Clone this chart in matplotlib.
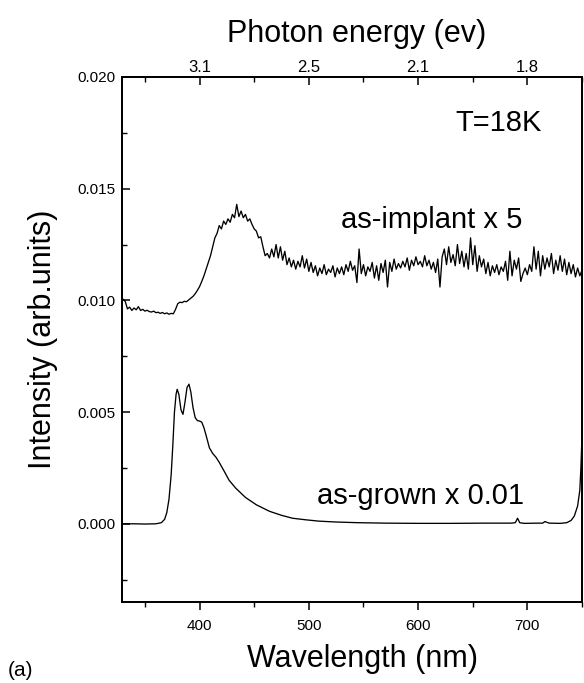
#!/usr/bin/env python
# -*- coding: utf-8 -*-
"""
Low-temperature PL spectra: as-grown vs. as-implant sample (T = 18 K).
"""

from pathlib import Path
import numpy as np
import matplotlib
matplotlib.use('Agg')
import matplotlib.pyplot as plt
from matplotlib.ticker import MultipleLocator, FixedLocator

plt.rcParams['font.family'] = ['Liberation Sans', 'DejaVu Sans']

# as-implant spectrum (x5), sampled every 2 nm from 330 to 750 nm, in units of 1e-3
implant_wavelength = np.arange(330, 752, 2)
implant_intensity_1e3 = [
    10.05, 9.95, 9.62, 9.70, 9.55, 9.66, 9.58, 9.72, 9.55, 9.60,      # 330-348
    9.52, 9.56, 9.50, 9.48, 9.52, 9.45, 9.47, 9.42, 9.46, 9.40,       # 350-368
    9.44, 9.38, 9.42, 9.40, 9.60, 9.85, 9.92, 9.90, 9.96, 9.94,       # 370-388
    10.02, 10.10, 10.18, 10.30, 10.45, 10.62, 10.85, 11.10, 11.40, 11.70,  # 390-408
    12.00, 12.40, 12.80, 13.00, 13.35, 13.20, 13.55, 13.40, 13.65, 13.50,  # 410-428
    13.85, 13.70, 14.30, 13.75, 14.00, 13.70, 13.85, 13.55, 13.65, 13.40,  # 430-448
    13.20, 13.10, 12.80, 12.85, 12.40, 12.00, 12.10, 11.90, 12.30, 11.95,  # 450-468
    12.50, 11.90, 12.40, 11.80, 12.20, 11.60, 11.90, 11.50, 11.80, 11.40,  # 470-488
    11.75, 11.50, 12.00, 11.45, 11.85, 11.30, 11.70, 11.25, 11.55, 11.10,  # 490-508
    11.45, 11.20, 11.60, 11.15, 11.40, 11.25, 11.55, 11.05, 11.45, 11.20,  # 510-528
    11.50, 11.15, 11.60, 11.30, 11.75, 11.35, 11.55, 10.80, 12.30, 11.20,  # 530-548
    11.60, 11.10, 11.50, 11.30, 11.70, 11.00, 11.55, 10.90, 11.65, 11.25,  # 550-568
    11.80, 10.60, 11.70, 11.30, 11.85, 11.40, 11.65, 11.45, 11.75, 11.50,  # 570-588
    11.90, 11.35, 11.80, 11.55, 11.95, 11.60, 11.75, 11.50, 12.00, 11.55,  # 590-608
    11.80, 11.40, 11.70, 11.25, 11.85, 10.60, 11.95, 12.30, 11.60, 12.40,  # 610-628
    11.70, 12.05, 11.55, 12.50, 11.65, 12.20, 11.50, 12.10, 11.40, 12.80,  # 630-648
    11.60, 12.45, 11.30, 12.00, 11.50, 11.85, 11.20, 11.70, 11.10, 11.55,  # 650-668
    11.25, 11.60, 11.15, 11.50, 11.30, 11.75, 10.90, 12.20, 11.10, 11.80,  # 670-688
    11.40, 11.90, 10.85, 11.20, 11.45, 11.15, 11.60, 11.30, 12.40, 11.40,  # 690-708
    12.20, 11.10, 12.00, 11.40, 11.90, 11.50, 12.10, 11.20, 11.80, 11.35,  # 710-728
    12.00, 11.30, 11.85, 11.15, 11.70, 11.20, 11.60, 11.05, 11.45, 11.10,  # 730-748
    11.35,                                                             # 750
]

# as-grown spectrum (x0.01), in units of 1e-3
grown_wavelength = [
    330, 340, 350, 360, 365, 368, 370, 372, 374, 375.5, 377, 378.5, 379.5,
    381, 383, 384.8, 386.5, 388.5, 390.3, 392, 394, 396, 398, 400, 402, 404,
    406, 409, 412, 415, 418, 422, 427, 433, 442, 452, 464, 475, 485, 497,
    509, 525, 545, 570, 600, 630, 660, 685, 689, 691, 693, 697, 710, 714,
    716, 720, 730, 736, 740, 743, 746, 748, 749, 750,
]
grown_intensity_1e3 = [
    0.00, 0.00, -0.01, 0.00, 0.05, 0.20, 0.50, 1.10, 2.20, 3.50, 5.00, 5.80, 6.02,
    5.80, 5.10, 4.90, 5.40, 6.10, 6.25, 5.90, 5.20, 4.75, 4.62, 4.60, 4.55, 4.30,
    3.95, 3.40, 3.15, 2.98, 2.75, 2.40, 1.95, 1.60, 1.18, 0.85, 0.56, 0.38, 0.25, 0.18,
    0.12, 0.08, 0.05, 0.03, 0.02, 0.02, 0.03, 0.03, 0.05, 0.25, 0.05, 0.02, 0.03, 0.03,
    0.10, 0.03, 0.02, 0.05, 0.15, 0.35, 0.80, 1.50, 2.50, 4.00,
]

# top axis: same wavelength ticks, labelled with photon energy
top_tick_wavelength = [400, 500, 600, 700]


def plot_spectra(output_path: Path) -> None:
    """Draw both spectra with wavelength / photon-energy axes and save to PNG."""
    implant = np.array(implant_intensity_1e3) * 1e-3
    grown = np.array(grown_intensity_1e3) * 1e-3

    fig = plt.figure(figsize=(5.84, 6.83), dpi=100)
    ax = fig.add_axes([122 / 584, 81 / 683, 460 / 584, 525 / 683])

    ax.plot(implant_wavelength, implant, color='black', lw=0.95)
    ax.plot(grown_wavelength, grown, color='black', lw=0.95)

    ax.set_xlim(329, 750)
    ax.set_ylim(-0.0035, 0.020)

    # bottom / left axes
    ax.xaxis.set_major_locator(MultipleLocator(100))
    ax.xaxis.set_minor_locator(MultipleLocator(50))
    ax.yaxis.set_major_locator(MultipleLocator(0.005))
    ax.yaxis.set_minor_locator(MultipleLocator(0.0025))
    ax.yaxis.set_major_formatter(plt.FormatStrFormatter('%.3f'))
    ax.tick_params(axis='x', which='both', direction='out', top=False,
                   labelsize=11, pad=6)
    ax.tick_params(axis='y', which='both', direction='in', right=False,
                   labelsize=11, pad=5)
    ax.tick_params(which='major', length=6, width=1.1)
    ax.tick_params(which='minor', length=3.5, width=1.0)
    for spine in ax.spines.values():
        spine.set_linewidth(1.3)

    ax.set_xlabel('Wavelength (nm)', fontsize=22)
    ax.xaxis.set_label_coords(0.523, -0.08)
    ax.set_ylabel('Intensity (arb.units)', fontsize=22)
    ax.yaxis.set_label_coords(-0.14, 0.5)

    # top axis in photon energy (ev)
    top = ax.twiny()
    top.set_xlim(ax.get_xlim())
    top.xaxis.set_major_locator(FixedLocator(top_tick_wavelength))
    top.xaxis.set_minor_locator(MultipleLocator(50))
    top.set_xticklabels([f'{1240 / w:.1f}' for w in top_tick_wavelength])
    top.tick_params(axis='x', which='both', direction='in', labelsize=12, pad=1.5)
    top.tick_params(which='major', length=6, width=1.1)
    top.tick_params(which='minor', length=3.5, width=1.0)
    top.set_xlabel('Photon energy (ev)', fontsize=22)
    top.xaxis.set_label_coords(0.509, 1.066)
    for spine in top.spines.values():
        spine.set_linewidth(1.3)

    # annotations
    ax.text(674, 0.0176, 'T=18K', fontsize=21, ha='center', va='baseline')
    ax.text(612, 0.01324, 'as-implant x 5', fontsize=21, ha='center', va='baseline')
    ax.text(602, 0.00089, 'as-grown x 0.01', fontsize=21, ha='center', va='baseline')
    fig.text(8 / 584, 1 - 670 / 683, '(a)', fontsize=15, ha='left', va='center')

    fig.savefig(output_path, dpi=100)
    plt.close(fig)


def main():
    plot_spectra(Path('out.png'))


if __name__ == '__main__':
    main()
